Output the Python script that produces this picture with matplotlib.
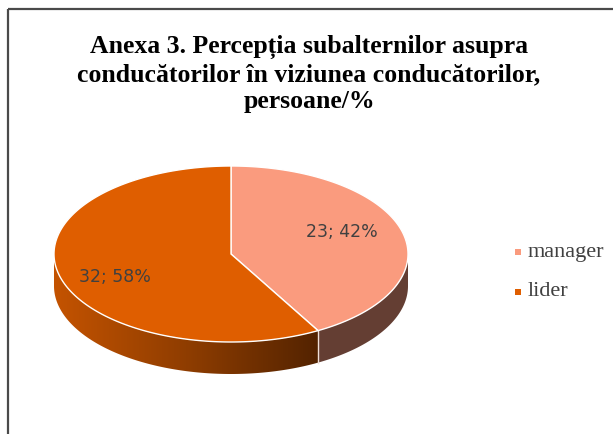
import matplotlib
matplotlib.use("Agg")
import matplotlib.pyplot as plt
import numpy as np
from matplotlib.patches import Polygon, Rectangle
from matplotlib.colors import LinearSegmentedColormap

TITLE = "Anexa 3. Percepția subalternilor asupra\nconducătorilor în viziunea conducătorilor,\npersoane/%"
CATEGORIES = ["manager", "lider"]
VALUES = [23, 32]
TOP_COLORS = ["#FA9B7E", "#DF5E00"]
SIDE_COLORS = ["#643E33", None]  # lider side uses gradient

W, H = 613, 434
CX, CY, RX, RY, DEPTH = 231, 254, 177, 88, 32


def ellipse_pts(t0, t1, n=200, dy=0.0):
    t = np.radians(np.linspace(t0, t1, n))
    return np.column_stack([CX + RX * np.sin(t), CY - RY * np.cos(t) + dy])


fig = plt.figure(figsize=(W / 100, H / 100), dpi=100)
ax = fig.add_axes([0, 0, 1, 1])
ax.set_xlim(0, W)
ax.set_ylim(H, 0)
ax.axis("off")

# frame (only top and left visible)
ax.plot([8, W], [9, 9], color="#4a4a4a", lw=1.6, solid_capstyle="butt")
ax.plot([8, 8], [9, H], color="#4a4a4a", lw=1.6, solid_capstyle="butt")

total = sum(VALUES)
bounds = np.concatenate([[0], np.cumsum(VALUES) / total * 360])

# side faces (front half: 90..270 deg)
for i in range(len(VALUES)):
    a0, a1 = max(bounds[i], 90), min(bounds[i + 1], 270)
    if a1 <= a0:
        continue
    top = ellipse_pts(a0, a1)
    bot = ellipse_pts(a0, a1, dy=DEPTH)[::-1]
    poly = np.vstack([top, bot])
    if SIDE_COLORS[i] is not None:
        ax.add_patch(Polygon(poly, closed=True, facecolor=SIDE_COLORS[i],
                             edgecolor="none", zorder=2))
    else:
        patch = Polygon(poly, closed=True, facecolor="none", edgecolor="none", zorder=2)
        ax.add_patch(patch)
        cmap = LinearSegmentedColormap.from_list("side", ["#C45300", "#8F3D00", "#532300"])
        x0, x1 = poly[:, 0].min(), poly[:, 0].max()
        y0, y1 = poly[:, 1].min(), poly[:, 1].max()
        grad = np.linspace(0, 1, 256)[None, :]
        im = ax.imshow(grad, cmap=cmap, extent=(x0, x1, y1, y0), aspect="auto",
                       zorder=2, interpolation="bicubic")
        im.set_clip_path(patch)
    # seam line on side
    if 90 < bounds[i] < 270:
        p = ellipse_pts(bounds[i], bounds[i], n=1)[0]
        ax.plot([p[0], p[0]], [p[1], p[1] + DEPTH], color="#f0e0d8", lw=1.0, zorder=3)

# top faces
for i in range(len(VALUES)):
    arc = ellipse_pts(bounds[i], bounds[i + 1])
    poly = np.vstack([[CX, CY], arc])
    ax.add_patch(Polygon(poly, closed=True, facecolor=TOP_COLORS[i],
                         edgecolor="white", lw=1.0, zorder=4))

# data labels
label_pos = [(342, 232), (115, 277)]
for (x, y), v in zip(label_pos, VALUES):
    ax.text(x, y, f"{v}; {round(v / total * 100)}%", ha="center", va="center",
            fontsize=12.5, color="#404040", family="DejaVu Sans", zorder=5)

# title
ax.text(309, 74, TITLE, ha="center", va="center", fontsize=18.5, fontweight="bold",
        family="Liberation Serif", linespacing=1.22, color="black")

# legend
for j, (name, c) in enumerate(zip(CATEGORIES, TOP_COLORS)):
    y = 252 + j * 40
    ax.add_patch(Rectangle((515, y - 3), 6, 6, facecolor=c, edgecolor="none"))
    ax.text(528, y, name, ha="left", va="center", fontsize=16,
            family="Liberation Serif", color="#404040")

fig.savefig("out.png", dpi=100)
